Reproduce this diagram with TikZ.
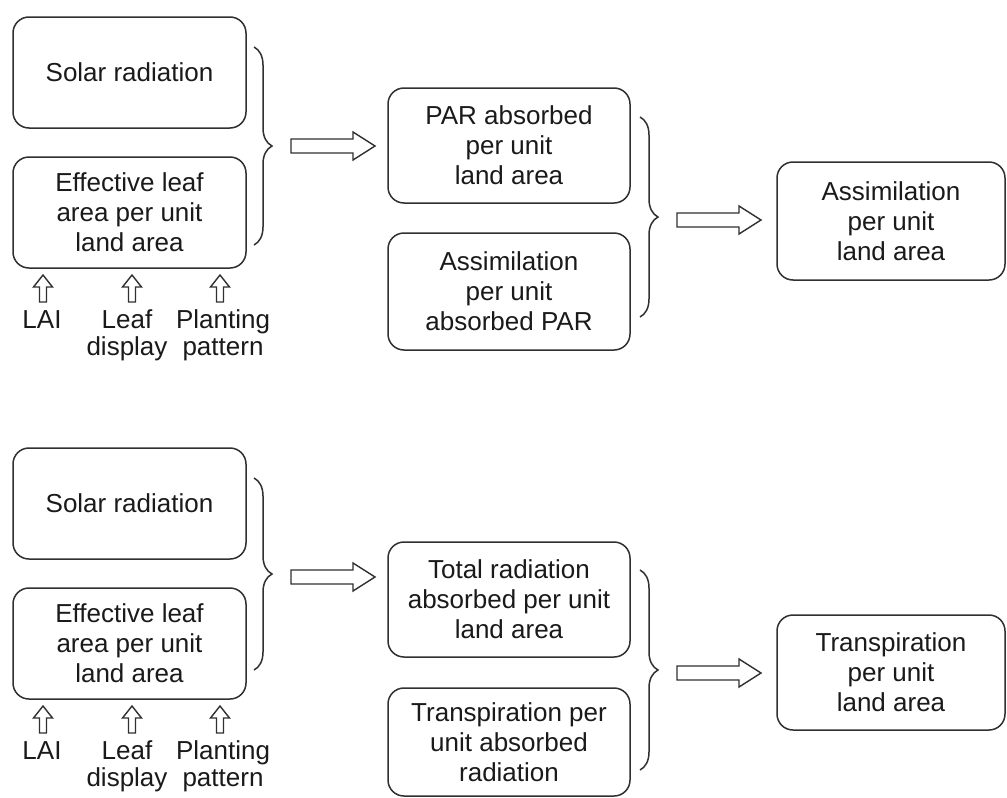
\documentclass[tikz,border=0pt]{standalone}
\usepackage{fontspec}
\setmainfont{Liberation Sans}
\usetikzlibrary{decorations.pathreplacing}
\definecolor{linec}{HTML}{303030}
\definecolor{textc}{HTML}{1A1A1A}
\begin{document}
\begin{tikzpicture}[x=1pt,y=-1pt,
  box/.style={draw=linec, line width=1.5pt, rounded corners=16pt, align=center, inner sep=0pt,
    font=\fontsize{26}{30}\selectfont, text=textc},
  lbl/.style={align=center, inner sep=0pt, anchor=north, font=\fontsize{26}{27}\selectfont, text=textc},
  brc/.style={draw=linec, line width=1.5pt, decorate, decoration={brace, amplitude=18pt}},
  harrow/.style={draw=linec, line width=1.4pt, fill=white, line join=miter},
  pics/fatright/.style={code={\draw[harrow] (0,-7) -- (62,-7) -- (62,-14) -- (84,0) -- (62,14) -- (62,7) -- (0,7) -- cycle;}},
  pics/fatup/.style={code={\draw[harrow] (-3.5,0) -- (-3.5,-15) -- (-9.5,-15) -- (0,-27) -- (9.5,-15) -- (3.5,-15) -- (3.5,0) -- cycle;}},
]
\fill[white] (0,0) rectangle (1007,798);
\useasboundingbox (0,0) rectangle (1007,798);

% ---------- top half ----------
\node[box, minimum width=233pt, minimum height=111pt] (sr1) at (129.5,72.5) {Solar radiation};
\node[box, minimum width=233pt, minimum height=111pt] (el1) at (129.5,212.5) {Effective leaf\\area per unit\\land area};
\draw[brc] (254,47) -- (254,245);
\path (291,146) pic {fatright};
\node[box, minimum width=242pt, minimum height=115pt] (par) at (509,145.5) {PAR absorbed\\per unit\\land area};
\node[box, minimum width=242pt, minimum height=117pt] (apar) at (509,291.5) {Assimilation\\per unit\\absorbed PAR};
\draw[brc] (640,117) -- (640,317);
\path (677,220) pic {fatright};
\node[box, minimum width=228pt, minimum height=118pt] (ass) at (891,221) {Assimilation\\per unit\\land area};

\path (43,302) pic {fatup};
\path (132,302) pic {fatup};
\path (220,302) pic {fatup};
\node[lbl] (lai1) at (42,310) {LAI};
\node[lbl] (ld1) at (127,309) {Leaf\\display};
\node[lbl] (pp1) at (223,309) {Planting\\pattern};

% ---------- bottom half ----------
\node[box, minimum width=233pt, minimum height=111pt] (sr2) at (129.5,503.5) {Solar radiation};
\node[box, minimum width=233pt, minimum height=111pt] (el2) at (129.5,643.5) {Effective leaf\\area per unit\\land area};
\draw[brc] (254,478) -- (254,670);
\path (291,577) pic {fatright};
\node[box, minimum width=242pt, minimum height=115pt] (tot) at (509,599.5) {Total radiation\\absorbed per unit\\land area};
\node[box, minimum width=242pt, minimum height=108pt] (tpa) at (509,742) {Transpiration per\\unit absorbed\\radiation};
\draw[brc] (640,570) -- (640,770);
\path (677,673) pic {fatright};
\node[box, minimum width=228pt, minimum height=115pt] (tra) at (891,672.5) {Transpiration\\per unit\\land area};

\path (43,733) pic {fatup};
\path (132,733) pic {fatup};
\path (220,733) pic {fatup};
\node[lbl] (lai2) at (42,741) {LAI};
\node[lbl] (ld2) at (127,740) {Leaf\\display};
\node[lbl] (pp2) at (223,740) {Planting\\pattern};
\end{tikzpicture}
\end{document}
